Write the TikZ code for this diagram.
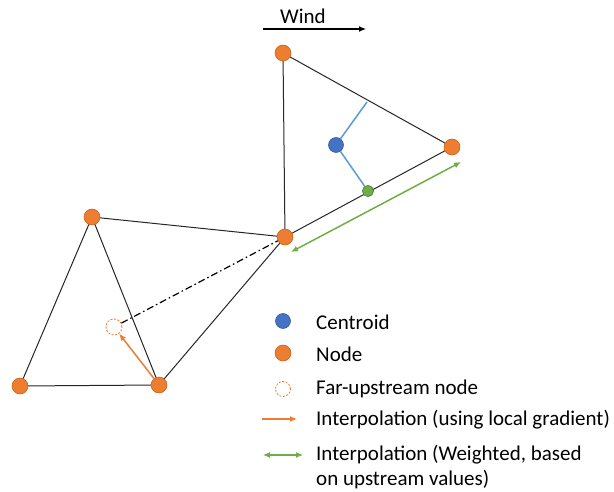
\documentclass[tikz,border=0pt]{standalone}
\usepackage{fontspec}
\setmainfont{Carlito}
\usetikzlibrary{arrows.meta}
\definecolor{orng}{HTML}{ED7D31}
\definecolor{orngd}{HTML}{C55A11}
\definecolor{blu}{HTML}{4472C4}
\definecolor{blud}{HTML}{2F528F}
\definecolor{grn}{HTML}{70AD47}
\definecolor{grnd}{HTML}{507E32}
\definecolor{lblu}{HTML}{5B9BD5}
\begin{document}
\begin{tikzpicture}[x=1pt,y=-1pt,
  mnode/.style={circle,fill=orng,draw=orngd,line width=0.5pt,minimum size=16pt,inner sep=0pt},
  cnode/.style={circle,fill=blu,draw=blud,line width=0.5pt,minimum size=15pt,inner sep=0pt},
  gnode/.style={circle,fill=grn,draw=grnd,line width=0.5pt,minimum size=11pt,inner sep=0pt},
  fnode/.style={circle,draw=orng,dashed,dash pattern=on 2pt off 1.5pt,line width=0.8pt,minimum size=16pt,inner sep=0pt},
  edge/.style={draw=black!85,line width=1pt},
  lbl/.style={anchor=west,font=\fontsize{21}{24}\selectfont,inner sep=0pt},
  oarr/.style={orng,line width=1.5pt,-{Latex[length=7pt,width=6pt]}},
  garr/.style={grn,line width=1.5pt,{Latex[length=7pt,width=6pt]}-{Latex[length=7pt,width=6pt]}}
]
\useasboundingbox (0,0) rectangle (614,492);
% wind
\coordinate (w1) at (263,29);
\coordinate (w2) at (366,29);
\draw[line width=1.2pt,-{Latex[length=7pt,width=6pt]}] (w1) -- (w2);
\node[font=\fontsize{21}{24}\selectfont,inner sep=0pt] (wind) at (303,16) {Wind};
% mesh node positions
\coordinate (pA) at (283,53);
\coordinate (pB) at (452,147);
\coordinate (pC) at (285,237);
\coordinate (pD) at (92,217);
\coordinate (pE) at (20,386);
\coordinate (pF) at (159,385);
\coordinate (pM) at (367,102);
% edges
\draw[edge] (pA) -- (pB) -- (pC) -- cycle;
\draw[edge] (pD) -- (pC) -- (pF);
\draw[edge] (pD) -- (pE) -- (pF) -- cycle;
% far upstream
\node[fnode] (far) at (114,327) {};
\draw[line width=1.2pt,dash pattern=on 7pt off 3pt on 1.5pt off 3pt] (far) -- (pC);
% centroid lines
\node[gnode] (g) at (368,191) {};
\node[cnode] (cen) at (336,145) {};
\draw[lblu,line width=1.5pt] (pM) -- (cen) -- (g);
\node[gnode] at (368,191) {};
% green arrow
\coordinate (ga1) at (291,252);
\coordinate (ga2) at (461,162);
\draw[garr] (ga1) -- (ga2);
% nodes
\node[mnode] (A) at (pA) {};
\node[mnode] (B) at (pB) {};
\node[mnode] (C) at (pC) {};
\node[mnode] (D) at (pD) {};
\node[mnode] (E) at (pE) {};
\node[mnode] (F) at (pF) {};
\draw[oarr] (F) -- (far);
% legend
\node[cnode] (l1) at (283,321) {};
\node[lbl] (t1) at (316,322) {Centroid};
\node[mnode] (l2) at (283,353) {};
\node[lbl] (t2) at (316,354) {Node};
\node[fnode,minimum size=15pt] (l3) at (283,389) {};
\node[lbl] (t3) at (316,389) {Far-upstream node};
\coordinate (o1) at (262,419);
\coordinate (o2) at (297,419);
\draw[oarr,line width=1.2pt] (o1) -- (o2);
\node[lbl] (t4) at (316,420) {Interpolation (using local gradient)};
\coordinate (g1) at (263,455);
\coordinate (g2) at (303,455);
\draw[garr,line width=1.2pt] (g1) -- (g2);
\node[lbl] (t5) at (316,455) {Interpolation (Weighted, based};
\node[lbl] (t6) at (316,480) {on upstream values)};
\end{tikzpicture}
\end{document}
